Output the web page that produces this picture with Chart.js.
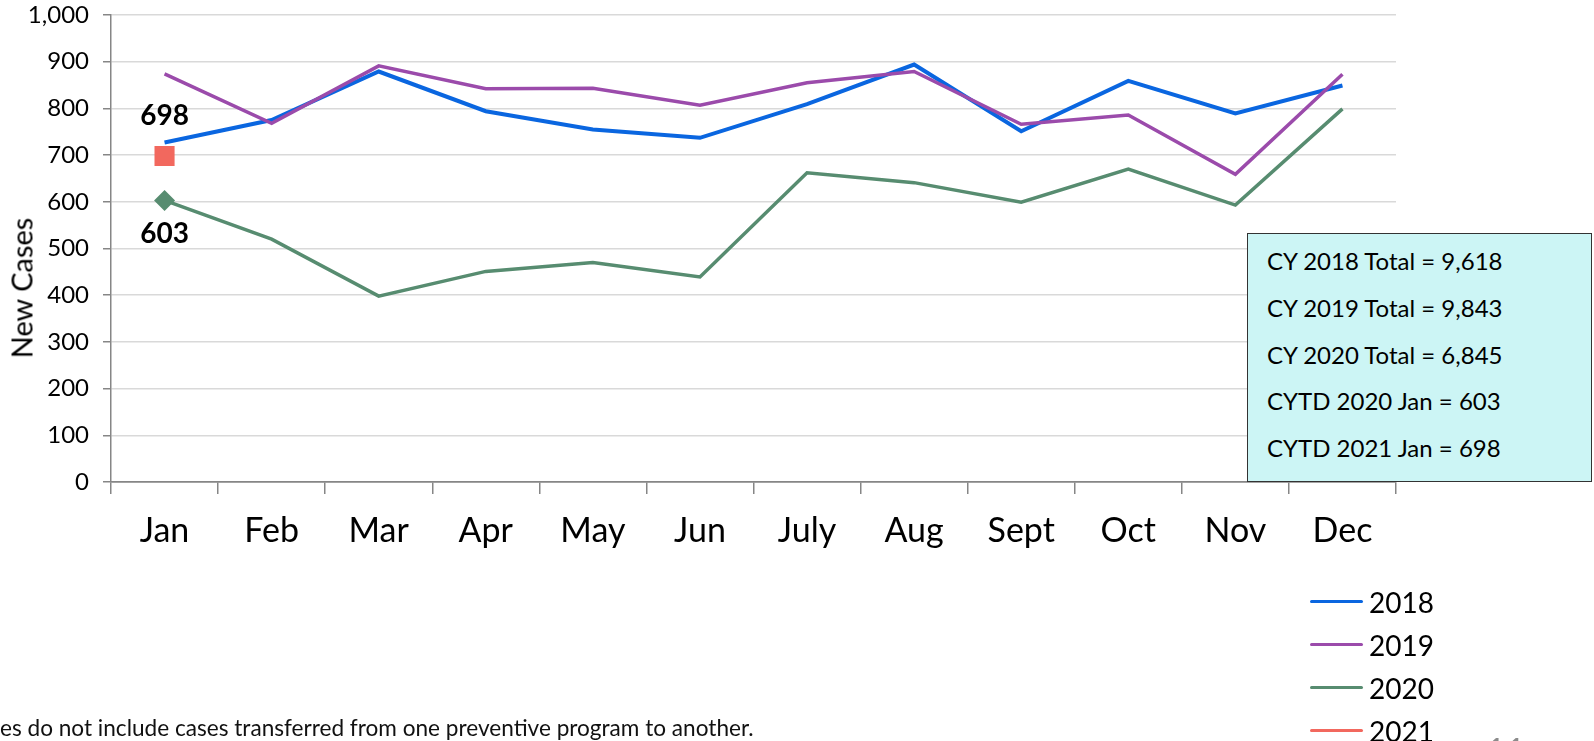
<!DOCTYPE html>
<html>
<head>
<meta charset="utf-8">
<script src="https://cdn.jsdelivr.net/npm/chart.js@4.4.1/dist/chart.umd.min.js"></script>
<style>
  html, body { margin: 0; padding: 0; background: #fff; overflow: hidden; }
  body { width: 1594px; height: 741px; position: relative; font-family: Lato, "Liberation Sans", sans-serif; color: #000; }
  #wrap { position: absolute; left: 0; top: 0; width: 1594px; height: 741px; }
  #ytitle { position: absolute; left: 21px; top: 288px; transform: translate(-50%, -50%) rotate(-90deg); font-size: 29px; white-space: nowrap; }
  #totals { position: absolute; left: 1247px; top: 233px; width: 345px; height: 249px; box-sizing: border-box;
            background: #CCF5F5; border: 1.5px solid #333; padding: 4px 0 0 19px; font-size: 24px; }
  #totals div { height: 46.8px; line-height: 46.8px; white-space: nowrap; }
  #legend { position: absolute; left: 1310px; top: 580px; }
  #legend .item { display: flex; align-items: center; height: 43px; font-size: 28px; }
  #legend .swatch { width: 53px; height: 3.5px; border-radius: 2px; margin-right: 6px; }
  #note { position: absolute; left: 0; top: 715px; font-size: 22.6px; line-height: 26px; color: #111; white-space: nowrap; }
  #page { position: absolute; left: 1486px; top: 733px; font-size: 34px; line-height: 34px; color: #8c8c8c; }
</style>
</head>
<body>
<div id="wrap"><canvas id="chart" width="1594" height="741"></canvas></div>
<div id="ytitle">New Cases</div>
<div id="totals"></div>
<div id="legend"></div>
<div id="note">es do not include cases transferred from one preventive program to another.</div>
<div id="page">11</div>
<script>
// months on the x axis
const months = ["Jan", "Feb", "Mar", "Apr", "May", "Jun", "July", "Aug", "Sept", "Oct", "Nov", "Dec"];

// new cases per month
const cases2018 = [727, 775, 879, 794, 755, 737, 809, 894, 751, 859, 789, 849];
const cases2019 = [874, 768, 891, 842, 843, 807, 855, 879, 766, 786, 659, 873];
const cases2020 = [603, 520, 398, 451, 470, 439, 662, 641, 599, 670, 593, 799];
const cases2021 = [698, null, null, null, null, null, null, null, null, null, null, null];

const years = ["2018", "2019", "2020", "2021"];
const colors = ["#0A66E0", "#9B4BAB", "#578C70", "#F2685E"];

// text box with yearly totals
const totals = [
  "CY 2018 Total = 9,618",
  "CY 2019 Total = 9,843",
  "CY 2020 Total = 6,845",
  "CYTD 2020 Jan = 603",
  "CYTD 2021 Jan = 698",
];

const yTicks = { min: 0, max: 1000, step: 100 };

document.getElementById("totals").innerHTML = totals.map(t => "<div>" + t + "</div>").join("");
document.getElementById("legend").innerHTML = years.map((y, i) =>
  '<div class="item"><span class="swatch" style="background:' + colors[i] + '"></span>' + y + "</div>"
).join("");

const FONT = "Lato";

// bold value labels next to the Jan markers
const janLabels = {
  id: "janLabels",
  afterDatasetsDraw(chart) {
    const ctx = chart.ctx;
    const notes = [
      { ds: 3, idx: 0, dy: -40 },
      { ds: 2, idx: 0, dy: 34 },
    ];
    ctx.save();
    ctx.font = "bold 28px " + FONT;
    ctx.fillStyle = "#000";
    ctx.textAlign = "center";
    ctx.textBaseline = "middle";
    notes.forEach(n => {
      const pt = chart.getDatasetMeta(n.ds).data[n.idx];
      const v = chart.data.datasets[n.ds].data[n.idx];
      ctx.fillText(String(v), pt.x, pt.y + n.dy);
    });
    ctx.restore();
  }
};

new Chart(document.getElementById("chart"), {
  type: "line",
  plugins: [janLabels],
  data: {
    labels: months,
    datasets: [
      { label: years[0], data: cases2018, borderColor: colors[0], backgroundColor: colors[0], borderWidth: 4, pointRadius: 0, order: 3 },
      { label: years[1], data: cases2019, borderColor: colors[1], backgroundColor: colors[1], borderWidth: 3.5, pointRadius: 0, order: 2 },
      {
        label: years[2], data: cases2020, borderColor: colors[2], backgroundColor: colors[2], borderWidth: 3.5, order: 1,
        pointStyle: "rectRot", pointRadius: ctx => ctx.dataIndex === 0 ? 10.5 : 0, pointBorderWidth: 0
      },
      {
        label: years[3], data: cases2021, borderColor: colors[3], backgroundColor: colors[3], borderWidth: 3.5, order: 0,
        pointStyle: "rect", pointRadius: 14.2, pointBorderWidth: 0, showLine: false
      },
    ],
  },
  options: {
    responsive: false,
    animation: false,
    layout: { padding: { left: 0, top: 15, right: 198, bottom: 189 } },
    plugins: { legend: { display: false }, tooltip: { enabled: false } },
    elements: { line: { tension: 0 } },
    scales: {
      x: {
        offset: true,
        afterFit(s) { s.height = 70; },
        grid: { display: true, drawOnChartArea: false, offset: true, tickLength: 12, color: "#868686", lineWidth: 1.5 },
        border: { display: true, color: "#868686", width: 1.5 },
        ticks: { color: "#000", padding: 17, font: { family: FONT, size: 34 } },
      },
      y: {
        min: yTicks.min,
        max: yTicks.max,
        afterFit(s) { s.width = 111; s.paddingTop = 0; s.paddingBottom = 0; },
        grid: {
          color: c => c.tick && c.tick.value === 0 ? "#868686" : "#D9D9D9",
          lineWidth: 1.5, tickLength: 8, tickColor: "#868686"
        },
        border: { display: true, color: "#868686", width: 1.5 },
        ticks: { stepSize: yTicks.step, color: "#000", padding: 14, font: { family: FONT, size: 24 } },
      },
    },
  },
});
</script>
</body>
</html>
